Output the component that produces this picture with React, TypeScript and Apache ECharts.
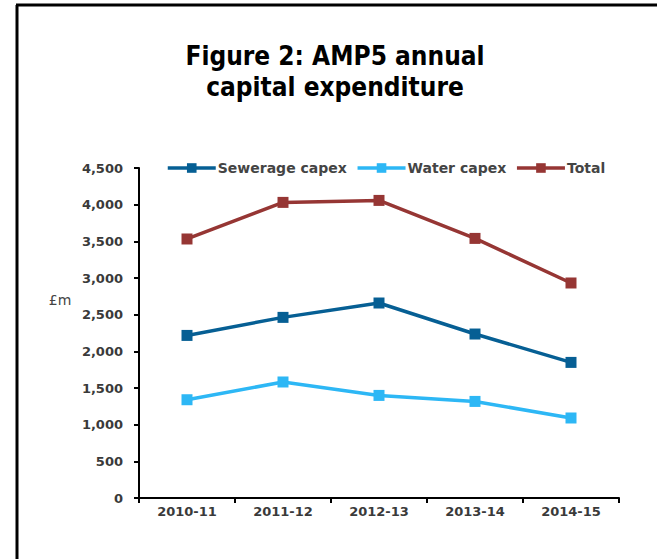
import React, { useEffect, useRef } from "react";
import * as echarts from "echarts";

const categories = ["2010-11", "2011-12", "2012-13", "2013-14", "2014-15"];
const sewerageCapex = [2217, 2463, 2659, 2236, 1849];
const waterCapex = [1340, 1582, 1399, 1317, 1091];
const totalCapex = [3532, 4031, 4058, 3540, 2932];
const titleLines = ["Figure 2: AMP5 annual", "capital expenditure"];
const yUnit = "£m";

export default function App() {
  const ref = useRef<HTMLDivElement>(null);
  useEffect(() => {
    if (!ref.current) return;
    const chart = echarts.init(ref.current, null, { renderer: "svg" });
    const labelFont = "DejaVu Sans";
    const mkSeries = (name: string, data: number[], color: string) => ({
      name,
      type: "line",
      data,
      symbol: "rect",
      symbolSize: 11,
      itemStyle: { color },
      lineStyle: { color, width: 3.5 },
    });
    chart.setOption({
      animation: false,
      backgroundColor: "#ffffff",
      title: {
        text: titleLines.join("\n"),
        left: 330,
        textAlign: "center",
        top: 35,
        textStyle: {
          fontFamily: "'DejaVu Sans Condensed', 'Liberation Sans Narrow', 'Arial Narrow', sans-serif",
          fontWeight: "bold",
          fontSize: 26,
          lineHeight: 31,
          color: "#000000",
        },
      },
      legend: {
        left: 161,
        top: 156,
        itemWidth: 48,
        itemHeight: 12,
        itemGap: 9,
        lineStyle: { width: 3.5 },
        textStyle: {
          fontFamily: labelFont,
          fontSize: 14,
          fontWeight: "bold",
          color: "#444444",
          padding: [0, 0, 0, -3],
        },
        data: ["Sewerage capex", "Water capex", "Total"],
      },
      grid: { left: 139, right: 38, top: 168, bottom: 61, containLabel: false },
      xAxis: {
        type: "category",
        data: categories,
        boundaryGap: true,
        axisLine: { lineStyle: { color: "#000000", width: 2 } },
        axisTick: { show: true, length: 5, lineStyle: { color: "#000000", width: 2 } },
        axisLabel: { fontFamily: labelFont, fontSize: 13, fontWeight: "bold", color: "#3a3a3a", margin: 7 },
      },
      yAxis: {
        type: "value",
        min: 0,
        max: 4500,
        interval: 500,
        splitLine: { show: false },
        axisLine: { show: true, lineStyle: { color: "#000000", width: 2 } },
        axisTick: { show: true, length: 5, lineStyle: { color: "#000000", width: 2 } },
        axisLabel: {
          fontFamily: labelFont,
          fontSize: 13,
          fontWeight: "bold",
          color: "#3a3a3a",
          margin: 16,
          formatter: (v: number) => v.toLocaleString("en-GB"),
        },
      },
      graphic: [
        { type: "line", shape: { x1: 17, y1: 5, x2: 17, y2: 559 }, style: { stroke: "#000000", lineWidth: 3 } },
        { type: "line", shape: { x1: 16, y1: 5, x2: 657, y2: 5 }, style: { stroke: "#000000", lineWidth: 3 } },
        {
          type: "text",
          x: 60,
          y: 300,
          style: {
            text: yUnit,
            fontFamily: labelFont,
            fontSize: 14,
            fill: "#444444",
            align: "center",
            verticalAlign: "middle",
          },
        },
      ],
      series: [
        mkSeries("Sewerage capex", sewerageCapex, "#065f94"),
        mkSeries("Water capex", waterCapex, "#2db7f5"),
        mkSeries("Total", totalCapex, "#963634"),
      ],
    });
    return () => chart.dispose();
  }, []);
  return (
    <div
      ref={ref}
      style={{ position: "fixed", left: 0, top: 0, width: 657, height: 559, background: "#fff" }}
    />
  );
}
